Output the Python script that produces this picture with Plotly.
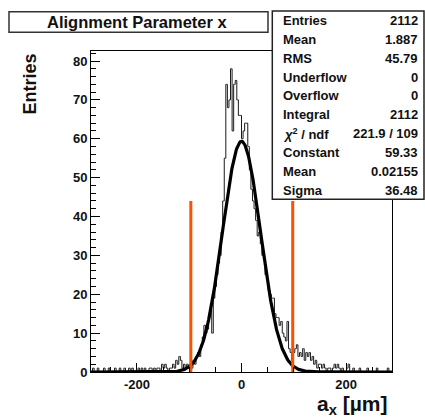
import numpy as np
import plotly.graph_objects as go

# ---------------- data ----------------
bin_lo, bin_hi, bin_w = -288.0, 288.0, 3.0
counts = [
    0, 1, 0, 0, 1, 0, 0, 0, 1, 0, 0, 1, 0, 0, 0, 1,
    0, 0, 1, 0, 0, 1, 0, 0, 1, 0, 1, 0, 0, 0, 1, 0,
    1, 0, 1, 0, 0, 1, 1, 0, 1, 0, 1,
    1, 0, 2, 1, 2, 1, 0, 1, 1, 2, 1,
    3, 2, 4, 3, 1, 2, 1, 2, 1,
    2, 1, 3, 2, 4, 5, 4,
    7, 9, 12, 10, 11, 14, 16,
    10, 19, 22, 25, 28, 30, 36,
    44, 55, 74, 68, 70, 78, 62,
    74, 75, 70, 66, 66, 60, 62,
    64, 64, 58, 52, 47, 44, 42,
    39, 35, 36, 33, 30, 29, 25,
    24, 21, 20, 19, 19, 15, 14,
    14, 12, 13, 10, 9, 8, 13,
    6, 5, 3, 5, 6, 7, 4,
    5, 4, 6, 3, 5, 4, 5,
    3, 4, 2, 3, 1, 2, 2,
    1, 2, 1, 0, 1, 1, 0, 1, 2,
    1, 2, 1, 0, 1, 0, 0, 1, 2, 0,
    0, 1, 0, 0, 0, 1, 0, 0, 0, 0, 1, 0, 0, 0, 0, 0, 1, 0, 0, 0, 0, 0, 0, 1, 0, 0,
]
fit_constant, fit_mean, fit_sigma = 59.33, 0.02155, 36.48
cut_values = [-97.0, 98.0]
cut_height = 44.0

stat_labels = ["Entries", "Mean", "RMS", "Underflow", "Overflow", "Integral",
               "<i>χ</i><sup>2</sup> / ndf", "Constant", "Mean", "Sigma"]
stat_values = ["2112", "1.887", "45.79", "0", "0", "2112",
               "221.9 / 109", "59.33", "0.02155", "36.48"]
title_text = "Alignment Parameter x"
x_title = "a<sub>x</sub> [µm]"
y_title = "Entries"
x_ticks = [-200, 0, 200]
y_ticks = list(range(0, 90, 10))

# ---------------- layout geometry ----------------
W, H = 425, 420
L, R, T, B = 91, 33, 51, 48
PW, PH = W - L - R, H - T - B


def px(x):
    return (x - L) / PW


def py(y):
    return (H - B - y) / PH


centers = bin_lo + bin_w * (np.arange(len(counts)) + 0.5)
xf = np.linspace(bin_lo, bin_hi, 600)
yf = fit_constant * np.exp(-0.5 * ((xf - fit_mean) / fit_sigma) ** 2)

fig = go.Figure()
fig.add_trace(go.Scatter(x=centers, y=counts, mode="lines", line_shape="hvh",
                         line=dict(color="#1a1a1a", width=1), hoverinfo="skip"))
fig.add_trace(go.Scatter(x=xf, y=yf, mode="lines",
                         line=dict(color="black", width=3.2), hoverinfo="skip"))
for cv in cut_values:
    fig.add_trace(go.Scatter(x=[cv, cv], y=[0, cut_height], mode="lines",
                             line=dict(color="#ff5000", width=3), hoverinfo="skip"))

font_b = "Liberation Sans, Arial, sans-serif"

fig.update_layout(
    width=W, height=H, margin=dict(l=L, r=R, t=T, b=B),
    paper_bgcolor="white", plot_bgcolor="white", showlegend=False,
    font=dict(family=font_b, color="black"),
)
fig.update_xaxes(range=[bin_lo, bin_hi], showgrid=False, zeroline=False,
                 showline=True, linecolor="black", linewidth=1, mirror=True,
                 ticks="inside", ticklen=9, tickcolor="black", tickwidth=1,
                 tickvals=x_ticks, ticktext=[f"<b>{v}</b>" for v in x_ticks],
                 tickfont=dict(size=13, family=font_b, color="#111"),
                 minor=dict(dtick=50, tick0=0, ticks="inside", ticklen=5,
                            tickcolor="black", showgrid=False))
fig.update_yaxes(range=[0, PH / 3.8875], showgrid=False, zeroline=False,
                 showline=True, linecolor="black", linewidth=1, mirror=True,
                 ticks="inside", ticklen=9, tickcolor="black", tickwidth=1,
                 tickvals=y_ticks, ticktext=[f"<b>{v}</b>" for v in y_ticks],
                 tickfont=dict(size=13, family=font_b, color="#111"),
                 minor=dict(dtick=2, tick0=0, ticks="inside", ticklen=5,
                            tickcolor="black", showgrid=False))

shapes = []
# title box
shapes.append(dict(type="rect", xref="paper", yref="paper",
                   x0=px(9), x1=px(268), y0=py(32.3), y1=py(11.7),
                   line=dict(color="#333", width=1.5), fillcolor="white", layer="above"))
# stats box
shapes.append(dict(type="rect", xref="paper", yref="paper",
                   x0=px(272.3), x1=px(424), y0=py(199.3), y1=py(11),
                   line=dict(color="#222", width=1.5), fillcolor="white", layer="above"))
fig.update_layout(shapes=shapes)

ann = []
ann.append(dict(text=f"<b>{title_text}</b>", xref="paper", yref="paper",
                x=px(137.5), y=py(21.8), showarrow=False,
                font=dict(size=16.5, family=font_b, color="#111"),
                xanchor="center", yanchor="middle"))
for i, (lab, val) in enumerate(zip(stat_labels, stat_values)):
    yy = py(20.5 + 18.85 * i)
    ann.append(dict(text=f"<b>{lab}</b>", xref="paper", yref="paper",
                    x=px(280.5), y=yy, showarrow=False, xanchor="left", yanchor="middle",
                    font=dict(size=13, family=font_b, color="#111")))
    ann.append(dict(text=f"<b>{val}</b>", xref="paper", yref="paper",
                    x=px(419.5), y=yy, showarrow=False, xanchor="right", yanchor="middle",
                    font=dict(size=13, family=font_b, color="#111")))
ann.append(dict(text=f"<b>{y_title}</b>", xref="paper", yref="paper",
                x=px(29.5), y=py(84), showarrow=False, textangle=-90,
                xanchor="center", yanchor="middle",
                font=dict(size=18, family=font_b, color="#111")))
ann.append(dict(text=f"<b>{x_title}</b>", xref="paper", yref="paper",
                x=px(389), y=py(389.5), showarrow=False,
                xanchor="right", yanchor="top",
                font=dict(size=21, family=font_b, color="#111")))
fig.update_layout(annotations=ann)

fig.write_html("out.html")
